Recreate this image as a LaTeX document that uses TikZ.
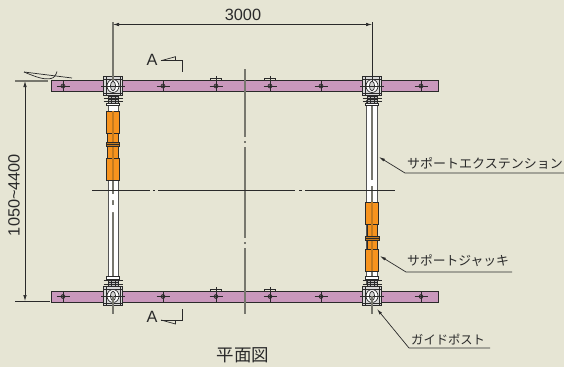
\documentclass[tikz,border=0pt]{standalone}
\usepackage{fontspec}
\setmainfont{Liberation Sans}
\newfontfamily\jp{Noto Sans CJK JP}
\definecolor{bgc}{HTML}{E6E5D4}
\definecolor{barc}{HTML}{C998BC}
\definecolor{orc}{HTML}{F7931E}
\definecolor{orl}{HTML}{C47A1E}
\definecolor{ink}{HTML}{2A2A2A}
\definecolor{cent}{HTML}{77776E}
\usetikzlibrary{arrows.meta}
\tikzset{
  barbox/.style={fill=barc,draw=ink,line width=0.9pt,minimum width=387pt,minimum height=11pt,inner sep=0pt,anchor=north west},
  orbox/.style={fill=orc,draw=ink,line width=0.9pt},
  dimline/.style={draw=ink,line width=0.7pt,{Latex[length=6pt,width=3.5pt]}-{Latex[length=6pt,width=3.5pt]}},
  leadline/.style={draw=ink,line width=0.7pt,{Latex[length=6pt,width=3pt]}-},
  exten/.style={draw=cent,line width=1.1pt},
  lab/.style={font=\jp\fontsize{12.8}{13}\selectfont,inner sep=0pt,anchor=base west,text=ink},
  txt/.style={font=\fontsize{16.3}{17}\selectfont,inner sep=0pt,text=ink},
  pics/bolt/.style={code={
    \draw[ink,line width=0.6pt,fill=ink!55!barc] (0,0) circle (2pt);
    \draw[ink,line width=0.7pt] (-6.5,0)--(6.5,0) (0,-5.5)--(0,5.5);
  }},
  pics/sect/.style={code={
    \draw[ink,line width=0.7pt] (-5.5,2)--(-5.5,0)--(5.5,0)--(5.5,2) (0,-2)--(0,2);
  }},
  pics/post/.style={code={
    \draw[ink,line width=0.7pt,fill=gray!30] (-9.5,-9.5) rectangle (9.5,9.5);
    \draw[ink,line width=0.5pt] (-9.5,-6.5)--(9.5,-6.5) (-9.5,7)--(9.5,7) (-7,-9.5)--(-7,9.5) (7,-9.5)--(7,9.5);
    \draw[ink,line width=0.7pt,fill=white] (0,0) ellipse (6pt and 6.5pt);
    \draw[ink,line width=0.7pt,fill=gray!35] (0,0) ellipse (2.6pt and 4.8pt);
    \draw[ink,line width=0.6pt] (-12,0)--(12,0);
  }},
  pics/neck/.style={code={
    \draw[ink,line width=0.5pt,fill=gray!50] (-5,0) rectangle (5,7);
    \draw[ink,line width=0.5pt] (-2,0)--(-2,7) (2,0)--(2,7) (-5,3.5)--(5,3.5);
    \draw[ink,line width=0.7pt] (-9.5,2)--(9.5,2) (-9.5,5.5)--(9.5,5.5);
    \draw[ink,line width=0.7pt,fill=white] (-6.5,7) rectangle (6.5,9.5);
  }},
  pics/amark/.style={code={
    \draw[ink,line width=0.7pt] (0,0)--(21.5,0)--(21.5,11);
    \draw[ink,line width=0.7pt] (0,0)--(14.5,-4)--(14.5,0);
  }},
}
\begin{document}
\begin{tikzpicture}[x=1pt,y=-1pt]
\path[fill=bgc] (0,0) rectangle (564,367);
\useasboundingbox (0,0) rectangle (564,367);
% reference points
\coordinate (L) at (113,86);
\coordinate (R) at (372,86);
\coordinate (LB) at (113,296);
\coordinate (RB) at (372,296);
% bars
\node[barbox] (topbar) at (51,80) {};
\node[barbox] (botbar) at (51,291) {};
% tubes
\draw[ink!80,line width=1pt,fill=white] (108,100) rectangle (118,283);
\draw[cent,line width=2pt] (113,180)--(113,283);
\draw[ink!80,line width=1pt,fill=white] (366.5,100) rectangle (377,283);
\draw[cent,line width=2pt] (372,100)--(372,283);
\fill[white] (112,194) rectangle (114,200) (112,205) rectangle (114,212);
\fill[white] (371,180) rectangle (373,186);
% left jack
\draw[orbox] (107.5,133) rectangle (118,158);
\draw[orbox] (106,111) rectangle (119,133);
\draw[orbox] (106,158) rectangle (119,180);
\draw[orl,line width=2pt] (113,111)--(113,180);
\draw[ink,line width=0.7pt,fill=orl] (106,142) rectangle (119,146.5);
\draw[ink,line width=0.5pt] (106,144.2)--(119,144.2);
% right jack
\draw[orbox] (367,224) rectangle (377,249);
\draw[orbox] (365,202) rectangle (378.5,224);
\draw[orbox] (365,249) rectangle (378.5,271);
\draw[orl,line width=2pt] (372,202)--(372,271);
\draw[ink,line width=0.7pt,fill=orl] (365,236) rectangle (379,240.5);
\draw[ink,line width=0.5pt] (365,238.2)--(379,238.2);
% centre lines
\draw[exten] (245,69)--(245,137) (245,141)--(245,143) (245,147)--(245,238) (245,242)--(245,244) (245,248)--(245,314);
\draw[ink,line width=0.7pt] (92,190.5)--(149.5,190.5) (153,190.5)--(155,190.5) (158,190.5)--(295,190.5) (299,190.5)--(302,190.5) (305,190.5)--(395,190.5);
% bolts and marks on the bars
\foreach \x in {63,163,216,270,321,421} {
  \pic at (\x,86) {bolt};
  \pic at (\x,296.5) {bolt};
}
\foreach \x in {216,270} {
  \pic at (\x,78) {sect};
  \pic at (\x,289) {sect};
}
% necks and guide posts
\pic at (113,96) {neck};
\pic[yscale=-1] at (113,286) {neck};
\pic at (372,96) {neck};
\pic[yscale=-1] at (372,286) {neck};
\pic at (L) {post};
\pic at (LB) {post};
\pic at (R) {post};
\pic at (RB) {post};
% post axes
\coordinate (Ltop) at (113,22);
\coordinate (Rtop) at (372,22);
\draw[exten] (Ltop)--(113,81);
\draw[ink,line width=0.7pt] (Rtop)--(372,81);
\draw[exten] (LB)--(113,314);
\draw[exten] (RB)--(372,314);
% width dimension
\coordinate (dl) at (113,24.5);
\coordinate (dr) at (372,24.5);
\draw[dimline] (dl)--(dr);
\node[txt] (w3000) at (243,15) {3000};
% height dimension
\coordinate (du) at (25,81);
\coordinate (dd) at (25,301);
\draw[dimline] (du)--(dd);
\draw[exten] (15,81)--(48,81);
\draw[ink,line width=0.7pt] (15,301)--(50,301);
\node[txt,rotate=90] (h) at (14,195) {1050{\char"7E}4400};
% break symbol
\draw[ink,line width=0.7pt] (24,72)--(72,78);
\draw[ink,line width=0.7pt] (24,72) .. controls (36,77) and (44,80) .. (51,78.5) .. controls (54,78) and (56,75) .. (57,71.5);
% section marks
\node[txt] (atop) at (152,60) {A};
\node[txt] (abot) at (152,317) {A};
\pic at (161,60.7) {amark};
\pic[yscale=-1] at (161,320) {amark};
% labels with leaders
\node[lab,font=\jp\fontsize{13}{13}\selectfont] (lext) at (407,168) {サポートエクステンション};
\node[lab] (ljack) at (407,265) {サポートジャッキ};
\node[lab,font=\jp\fontsize{12.3}{13}\selectfont] (lguide) at (411,344) {ガイドポスト};
\node[inner sep=0pt,font=\jp\fontsize{17.5}{18}\selectfont,text=ink] (ttl) at (243,355) {平面図};
\coordinate (e1) at (379,157);
\coordinate (e2) at (405,173);
\coordinate (e3) at (564,173);
\draw[leadline] (e1)--(e2)--(e3);
\coordinate (j1) at (380,256);
\coordinate (j2) at (406,272);
\coordinate (j3) at (512,272);
\draw[leadline] (j1)--(j2)--(j3);
\coordinate (g1) at (377,309);
\coordinate (g2) at (409,348);
\coordinate (g3) at (490,348);
\draw[leadline] (g1)--(g2)--(g3);
\end{tikzpicture}
\end{document}
